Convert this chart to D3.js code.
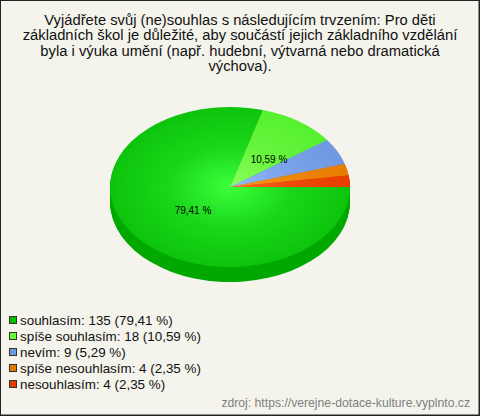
<!DOCTYPE html>
<html><head><meta charset="utf-8">
<script src="https://cdn.jsdelivr.net/npm/d3@7/dist/d3.min.js"></script>
<style>html,body{margin:0;padding:0;background:#f4f4ec}svg{display:block}text{font-family:"Liberation Sans",Arial,sans-serif}</style>
</head><body><div id="c"></div>
<script>
const titleLines=["Vyjádřete svůj (ne)souhlas s následujícím trvzením: Pro děti","základních škol je důležité, aby součástí jejich základního vzdělání","byla i výuka umění (např. hudební, výtvarná nebo dramatická","výchova)."];
const categories=["souhlasím","spíše souhlasím","nevím","spíše nesouhlasím","nesouhlasím"];
const counts=[135,18,9,4,4];
const percentLabels=["79,41 %","10,59 %","5,29 %","2,35 %","2,35 %"];
const legendColors=["#00c000","#66ff33","#6f96e0","#e67a00","#e63c00"];
const innerColors=["#3cff3c","#8cff5c","#92baff","#ff9a1e","#ff6a22"];
const outerColors=["#0cc40c","#56f030","#7098e2","#e67c00","#e63c00"];
const sideColors=["#00a800","#44cc22","#5a7cc0","#c06600","#c03200"];
const source="zdroj: https://verejne-dotace-kulture.vyplnto.cz";

const W=480,H=416,cx=230,cy=187,rx=120,ry=80,depth=15;
const svg=d3.select("#c").append("svg").attr("width",W).attr("height",H);
svg.append("rect").attr("x",.5).attr("y",.5).attr("width",W-1.5).attr("height",H-1.5).attr("fill","#f4f4ec").attr("stroke","#222");
svg.append("rect").attr("x",W-1).attr("y",0).attr("width",1).attr("height",H).attr("fill","#222");
svg.append("rect").attr("x",0).attr("y",H-1).attr("width",W).attr("height",1).attr("fill","#222");

svg.append("g").selectAll("text").data(titleLines).join("text")
 .attr("x",240).attr("y",(d,i)=>24.5+i*15.5).attr("text-anchor","middle")
 .attr("font-size",14.75).attr("fill","#111").text(d=>d);

const defs=svg.append("defs");
categories.forEach((c,i)=>{
 const g=defs.append("radialGradient").attr("id","g"+i).attr("gradientUnits","userSpaceOnUse")
  .attr("cx",0).attr("cy",0).attr("r",rx);
 g.append("stop").attr("offset",0).attr("stop-color",innerColors[i]);
 g.append("stop").attr("offset",.5).attr("stop-color",d3.interpolateRgb(innerColors[i],outerColors[i])(.68));
 g.append("stop").attr("offset",1).attr("stop-color",outerColors[i]);
});

const pie=d3.pie().sort(null).startAngle(Math.PI/2).endAngle(Math.PI/2+2*Math.PI);
const arcs=pie(counts);
const arc=d3.arc().innerRadius(0).outerRadius(rx);
const sy=ry/rx;
for(let k=depth;k>=1;k--){
 svg.append("g").attr("transform",`translate(${cx},${cy+k}) scale(1,${sy})`)
  .selectAll("path").data(arcs).join("path").attr("d",arc).attr("fill",(d,i)=>sideColors[i]);
}
svg.append("g").attr("transform",`translate(${cx},${cy}) scale(1,${sy})`)
 .selectAll("path").data(arcs).join("path").attr("d",arc).attr("fill",(d,i)=>`url(#g${i})`);

const labelX=[193,269],labelY=[214,163];
svg.append("g").selectAll("text").data(arcs.slice(0,2)).join("text")
 .attr("x",(d,i)=>labelX[i]).attr("y",(d,i)=>labelY[i])
 .attr("text-anchor","middle").attr("font-size",10).attr("fill","#000")
 .text((d,i)=>percentLabels[i]);

const leg=svg.append("g").selectAll("g").data(categories).join("g")
 .attr("transform",(d,i)=>`translate(0,${320+i*16})`);
leg.append("rect").attr("x",9.5).attr("y",-3.5).attr("width",7).attr("height",7)
 .attr("fill",(d,i)=>legendColors[i]).attr("stroke","#333");
leg.append("text").attr("x",20).attr("y",5).attr("font-size",13.4).attr("fill","#111")
 .text((d,i)=>`${d}: ${counts[i]} (${percentLabels[i]})`);

svg.append("text").attr("x",470).attr("y",407).attr("text-anchor","end")
 .attr("font-size",12.2).attr("fill","#808080").text(source);
</script></body></html>
